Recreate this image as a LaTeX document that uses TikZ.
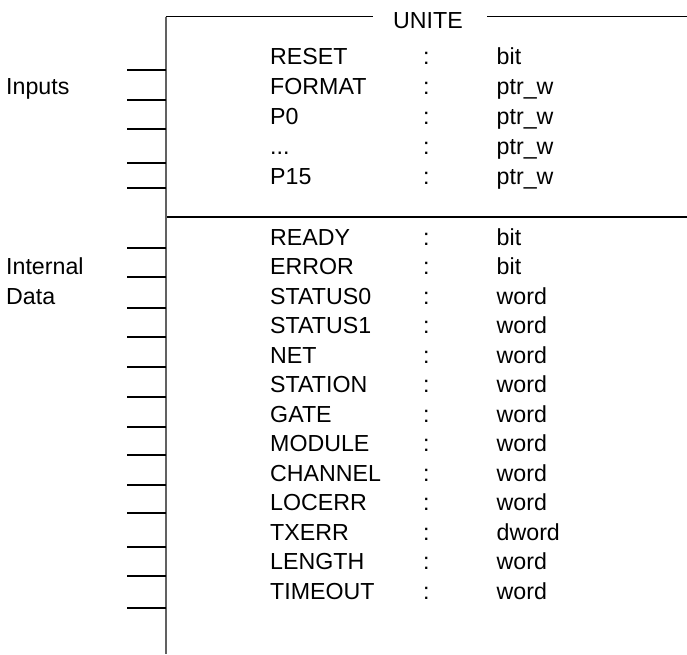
\documentclass[tikz,border=0pt]{standalone}
\usepackage{fontspec}
\setmainfont{Liberation Sans}
\begin{document}
\begin{tikzpicture}[x=1pt,y=-1pt,
  txt/.style={inner sep=0pt,anchor=base west,font=\fontsize{23.2}{27}\selectfont},
  stub/.style={line width=2pt,black},
  frame/.style={line width=1.7pt,draw=black!62},
  topline/.style={line width=1.4pt,black},
  sepline/.style={line width=2.2pt,black}]
\useasboundingbox (0,0) rectangle (687,654);
% frame
\coordinate (vt) at (165.7,16.5);
\coordinate (vb) at (165.7,654);
\node[txt] (unite) at (393,28) {UNITE};
\coordinate (tl) at (373,16.5);
\coordinate (tr0) at (487,16.5);
\coordinate (tr) at (687,16.5);
\draw[topline] (vt) -- (tl);
\draw[topline] (tr0) -- (tr);
\coordinate (sl) at (165.7,216.7);
\coordinate (sr) at (687,216.7);
\draw[sepline] (sl) -- (sr);
\draw[frame] (vt) -- (vb);
% left labels
\node[txt] (inputs) at (6,94.5) {Inputs};
\node[txt] (internal) at (6,274.5) {Internal};
\node[txt] (data) at (6,304) {Data};
% input stubs
\foreach \y [count=\i] in {70,99.5,129,163,187.5}{
  \coordinate (ia\i) at (127,\y);
  \coordinate (ib\i) at (165.7,\y);
  \draw[stub] (ia\i) -- (ib\i);
}
% internal stubs
\foreach \y [count=\i] in {248,277,308,337,367,397,427,455,485,513,547,576,608}{
  \coordinate (da\i) at (127,\y);
  \coordinate (db\i) at (165.7,\y);
  \draw[stub] (da\i) -- (db\i);
}
% input entries
\node[txt] (in1) at (270,64.5) {RESET};
\node[txt] (in2) at (270,94.5) {FORMAT};
\node[txt] (in3) at (270,124.5) {P0};
\node[txt] (in4) at (270,154.5) {...};
\node[txt] (in5) at (270,184.5) {P15};
\node[txt] (ic1) at (423,64.5) {:};
\node[txt] (ic2) at (423,94.5) {:};
\node[txt] (ic3) at (423,124.5) {:};
\node[txt] (ic4) at (423,154.5) {:};
\node[txt] (ic5) at (423,184.5) {:};
\node[txt] (it1) at (496.5,64.5) {bit};
\node[txt] (it2) at (496.5,94.5) {ptr\_w};
\node[txt] (it3) at (496.5,124.5) {ptr\_w};
\node[txt] (it4) at (496.5,154.5) {ptr\_w};
\node[txt] (it5) at (496.5,184.5) {ptr\_w};
% internal entries
\foreach \n/\t [count=\i] in {READY/bit,ERROR/bit,STATUS0/word,STATUS1/word,NET/word,STATION/word,GATE/word,MODULE/word,CHANNEL/word,LOCERR/word,TXERR/dword,LENGTH/word,TIMEOUT/word}{
  \pgfmathsetmacro{\yy}{245+29.5*(\i-1)}
  \node[txt] (dn\i) at (270,\yy) {\n};
  \node[txt] (dc\i) at (423,\yy) {:};
  \node[txt] (dt\i) at (496.5,\yy) {\t};
}
\end{tikzpicture}
\end{document}
